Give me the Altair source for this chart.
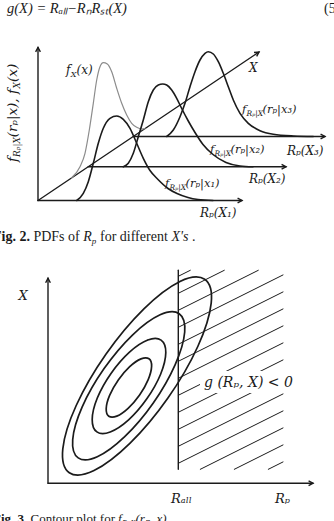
import altair as alt
import pandas as pd

W, H = 334, 521
INK = "#1b1b1b"
GREY = "#8c8c8c"
MATH = "DejaVu Serif"
TEXT = "Liberation Serif"

# ================= Fig. 2 (local units: R_p to the right, density up; origin = axes origin) ==========
TOP_ORIGIN = (38, 200.5)

fx_r = [33.5, 42, 47, 51.3, 55.3, 58.7, 62, 65.3, 69.3, 73.7, 78.7, 83.7, 88.7, 93.7, 98.7, 103.7, 107]
fx_d = [22.5, 33.8, 47.2, 70.5, 97.2, 120.5, 133.8, 137.8, 136.5, 128.8, 112.2, 97.2, 85.5, 77.2, 73.2, 71.5, 71.8]

f1_r = [38.7, 45.3, 50.3, 55.3, 60.3, 65.3, 72, 78.7, 85.3, 92, 98.7, 105.3, 112, 120, 130, 139, 150, 160, 175]
f1_d = [0, 7.2, 18.8, 37.2, 57.2, 72.2, 82.2, 84.5, 81.2, 72.2, 57.2, 42.2, 30, 21, 12, 7, 3, 1, 0]

f2_r = [85.3, 90.3, 95.3, 100.3, 105.3, 110.3, 115.3, 120.3, 124.7, 128.7, 133.7, 138.7, 143.7, 150, 157, 165, 175, 188, 202, 215]
f2_d = [33.7, 37.2, 47.2, 63.8, 80.5, 98.8, 110.5, 115.5, 116.5, 115.5, 110.5, 102.2, 92, 80, 68, 56, 46, 38, 34.5, 33.7]

f3_r = [128.7, 135.3, 142, 147, 152, 157, 162, 167, 170.3, 175.3, 180.3, 185.3, 190.3, 195.3, 202, 210.3, 222, 235.3, 255.3, 275.3]
f3_d = [64, 70.5, 83.8, 97.2, 113.8, 128.8, 140.5, 147.2, 148.8, 146.5, 138.8, 127.2, 113.8, 100.5, 87.2, 77.2, 69.8, 66.2, 64.5, 64]

# axes of Fig. 2: vertical density axis, R_p(X1), R_p(X2), R_p(X3), X
top_ax_r0 = [0, 0, 50.2, 95.3, 0]
top_ax_d0 = [0, 0, 33.7, 64, 0]
top_ax_r1 = [0, 204, 248, 287, 221]
top_ax_d1 = [153, 0, 33.7, 64, 148.5]
top_ax_head = [0, 90, 90, 90, 56]

# ================= Fig. 3 (local units: R_p to the right, X up; origin = axes origin) ================
BOT_ORIGIN = (48, 483.3)

E4_r = [156.7, 132.0, 95.9, 57.9, 28.2, 14.8, 21.3, 46.0, 82.1, 120.1, 149.8, 163.2]
E4_d = [204.0, 201.9, 174.5, 129.1, 77.8, 34.5, 10.6, 12.7, 40.1, 85.5, 136.8, 180.1]
E3_r = [131.2, 112.1, 84.7, 56.1, 34.2, 24.7, 30.2, 49.3, 76.7, 105.3, 127.2, 136.7]
E3_d = [169.6, 168.5, 148.5, 114.7, 76.4, 43.7, 25.4, 26.5, 46.6, 80.3, 118.7, 151.3]
E2_r = [113.1, 99.8, 81.5, 63.0, 49.3, 44.2, 48.9, 62.2, 80.6, 99.0, 112.7, 117.8]
E2_d = [143.2, 143.3, 131.2, 109.9, 85.3, 63.9, 51.4, 51.3, 63.4, 84.7, 109.3, 130.7]
E1_r = [101.0, 93.0, 81.7, 70.3, 61.6, 58.2, 60.8, 68.8, 80.1, 91.6, 100.2, 103.6]
E1_d = [124.5, 124.4, 116.6, 103.3, 87.9, 74.7, 67.1, 67.2, 75.0, 88.3, 103.7, 116.9]

R_ALL = 130.3
bot_ax_r0 = [0, 0, R_ALL]
bot_ax_d0 = [0, 0, 14]
bot_ax_r1 = [0, 265, R_ALL]
bot_ax_d1 = [205, 0, 213]
bot_ax_head = [0, 90, None]

# hatching of the failure region g(R_p, X) < 0
hatch_c = [207, 190, 173, 156, 139, 122, 105, 88, 71, 54, 37, 20, 3, -14, -31]
HATCH_SLOPE = 0.5
HATCH_BOX = (R_ALL, 235, 14, 213)

# ================= helpers =================
xs = alt.Scale(domain=[0, W], nice=False, zero=False)
ys = alt.Scale(domain=[0, H], nice=False, zero=False, reverse=True)


def gx(f):
    return alt.X(f + ":Q", scale=xs, axis=None)


def gy(f):
    return alt.Y(f + ":Q", scale=ys, axis=None)


def to_global(origin, r, d):
    return [origin[0] + a for a in r], [origin[1] - b for b in d]


def curve(origin, r, d, color=INK, width=1.6, interp="monotone"):
    x, y = to_global(origin, r, d)
    df = pd.DataFrame({"x": x, "y": y, "i": list(range(len(x)))})
    return alt.Chart(df).mark_line(
        interpolate=interp, stroke=color, strokeWidth=width, strokeCap="round"
    ).encode(x=gx("x"), y=gy("y"), order="i:Q")


def segments(origin, r0, d0, r1, d1, width=1.4):
    x0, y0 = to_global(origin, r0, d0)
    x1, y1 = to_global(origin, r1, d1)
    df = pd.DataFrame({"x": x0, "y": y0, "x2": x1, "y2": y1})
    return alt.Chart(df).mark_rule(stroke=INK, strokeWidth=width, strokeCap="round").encode(
        x=gx("x"), y=gy("y"), x2="x2:Q", y2="y2:Q"
    )


def heads(origin, r1, d1, ang):
    keep = [k for k, a in enumerate(ang) if a is not None]
    x, y = to_global(origin, [r1[k] for k in keep], [d1[k] for k in keep])
    df = pd.DataFrame({"x": x, "y": y, "a": [ang[k] for k in keep]})
    return alt.Chart(df).mark_point(
        shape="M-0.7,1.3L0,0L0.7,1.3", filled=False, size=46, stroke=INK,
        strokeWidth=1.4, opacity=1
    ).encode(x=gx("x"), y=gy("y"), angle=alt.Angle("a:Q", scale=None))


def texts(xs_, ys_, labels, size, font=MATH, style="italic", weight="normal", angle=0, color=INK):
    df = pd.DataFrame({"x": xs_, "y": ys_, "t": labels})
    return alt.Chart(df).mark_text(
        align="left", baseline="alphabetic", font=font, fontSize=size,
        fontStyle=style, fontWeight=weight, angle=angle, color=color
    ).encode(x=gx("x"), y=gy("y"), text="t:N")


# hatch segments clipped to the failure box
h_r0, h_d0, h_r1, h_d1 = [], [], [], []
for c in hatch_c:
    ra = max(HATCH_BOX[0], HATCH_BOX[0] + (HATCH_BOX[2] - c) / HATCH_SLOPE)
    rb = min(HATCH_BOX[1], HATCH_BOX[0] + (HATCH_BOX[3] - c) / HATCH_SLOPE)
    if rb > ra:
        h_r0.append(ra); h_r1.append(rb)
        h_d0.append(c + HATCH_SLOPE * (ra - HATCH_BOX[0]))
        h_d1.append(c + HATCH_SLOPE * (rb - HATCH_BOX[0]))

layers = []

# ---- Fig. 3 ----
layers.append(segments(BOT_ORIGIN, h_r0, h_d0, h_r1, h_d1, width=1.0))
gap = pd.DataFrame({"x": [200], "x2": [296], "y": [371], "y2": [393]})
layers.append(alt.Chart(gap).mark_rect(color="white").encode(x=gx("x"), x2="x2:Q", y=gy("y"), y2="y2:Q"))
for er, ed in [(E4_r, E4_d), (E3_r, E3_d), (E2_r, E2_d), (E1_r, E1_d)]:
    layers.append(curve(BOT_ORIGIN, er, ed, width=1.7, interp="cardinal-closed"))
layers.append(segments(BOT_ORIGIN, bot_ax_r0, bot_ax_d0, bot_ax_r1, bot_ax_d1))
layers.append(heads(BOT_ORIGIN, bot_ax_r1, bot_ax_d1, bot_ax_head))

# ---- Fig. 2 ----
layers.append(segments(TOP_ORIGIN, top_ax_r0, top_ax_d0, top_ax_r1, top_ax_d1))
layers.append(heads(TOP_ORIGIN, top_ax_r1, top_ax_d1, top_ax_head))
layers.append(curve(TOP_ORIGIN, fx_r, fx_d, color=GREY, width=1.2))
layers.append(curve(TOP_ORIGIN, f1_r, f1_d))
layers.append(curve(TOP_ORIGIN, f2_r, f2_d))
layers.append(curve(TOP_ORIGIN, f3_r, f3_d))

# ---- texts ----
# equation
layers.append(texts([7], [13], ["g(X) = Rₐₗₗ−RₙRₛₜ(X)"], 14.5, font=TEXT))
layers.append(texts([324], [13], ["(5)"], 14, font=TEXT, style="normal"))

# Fig. 2 labels
layers.append(texts([66, 76.5, 249, 287, 249, 200], [74, 74, 72, 155, 183, 217],
                    ["f", "(x)", "X", "Rₚ(X₃)", "Rₚ(X₂)", "Rₚ(X₁)"], 12))
layers.append(texts([70.8], [77], ["X"], 8))
layers.append(texts([242, 262.5, 210, 230.5, 165, 185.5], [113, 113, 153, 153, 187, 187],
                    ["f", "(rₚ|x₃)", "f", "(rₚ|x₂)", "f", "(rₚ|x₁)"], 11.5))
layers.append(texts([246.5, 214.5, 169.5], [116, 156, 190], ["Rₚ|X", "Rₚ|X", "Rₚ|X"], 7.5))
# rotated vertical label
layers.append(texts([16.5, 16.5, 16.5], [162, 137.2, 82], ["f", "(rₚ|x), f", "(x)"], 13.5, angle=270))
layers.append(texts([19.5, 19.5], [157, 88.4], ["Rₚ|X", "X"], 9, angle=270))

# caption Fig. 2
layers.append(texts([-7], [241], ["Fig. 2."], 14, font=TEXT, style="normal", weight="bold"))
layers.append(texts([33.4, 100, 192], [241, 241, 241], ["PDFs of", "for different", "."], 14, font=TEXT, style="normal"))
layers.append(texts([83.2, 171.5], [241, 241], ["R", "X's"], 14, font=TEXT))
layers.append(texts([91.8], [244], ["p"], 9, font=TEXT))

# Fig. 3 labels
layers.append(texts([18.5, 171, 275], [300, 503, 503], ["X", "Rₐₗₗ", "Rₚ"], 13))
layers.append(texts([204], [387], ["g (Rₚ, X) < 0"], 14))

# caption Fig. 3
layers.append(texts([-7], [522.5], ["Fig. 3."], 13, font=TEXT, style="normal", weight="bold"))
layers.append(texts([30.5], [522.5], ["Contour plot for"], 13, font=TEXT, style="normal"))
layers.append(texts([118, 135.5], [522.5, 522.5], ["f", "(rₚ, x)."], 13, font=TEXT))
layers.append(texts([122], [525.5], ["RₚX"], 8.5, font=TEXT))

chart = alt.layer(*layers).properties(
    width=W, height=H, autosize=alt.AutoSizeParams(type="none"), padding=0
).configure_view(stroke=None)

chart.save("out.html", embed_options={"renderer": "svg", "actions": False})
